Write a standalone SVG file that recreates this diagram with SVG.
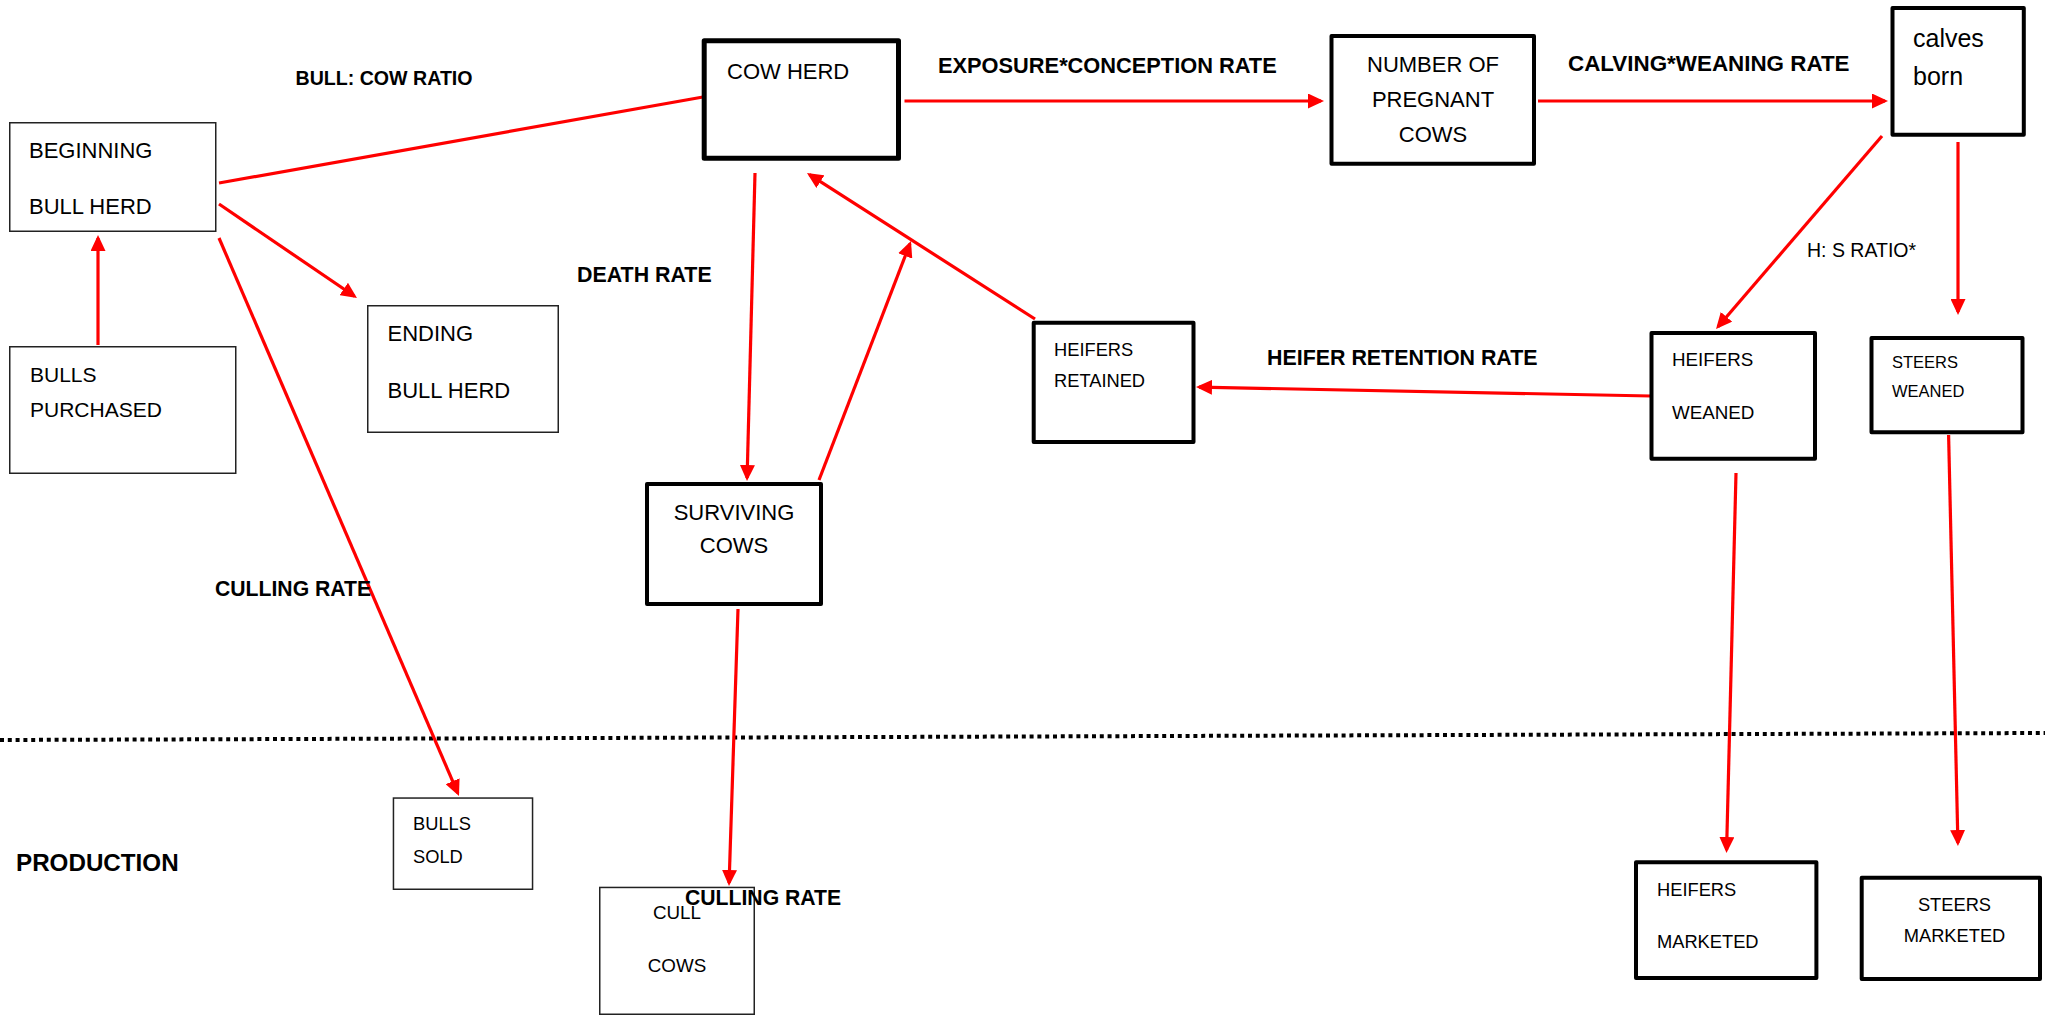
<svg xmlns="http://www.w3.org/2000/svg" width="2045" height="1016" viewBox="0 0 2045 1016">
<style>
  .thin{fill:#fff;stroke:#222;stroke-width:1.5}
  .med{fill:#fff;stroke:#000;stroke-width:4;stroke-linejoin:round}
  .thick{fill:#fff;stroke:#000;stroke-width:5;stroke-linejoin:round}
  text{font-family:"Liberation Sans",Arial,sans-serif;fill:#000}
  .t22{font-size:22px}
  .t21{font-size:21px}
  .t19{font-size:18.8px}
  .t18{font-size:18.3px}
  .t16{font-size:16.5px}
  .lab{font-weight:bold;font-size:21.4px}
  .conn line{stroke:#ff0000;stroke-width:3.2;fill:none}
  .arr{marker-end:url(#ah)}
</style>
<defs>
  <marker id="ah" markerUnits="userSpaceOnUse" markerWidth="16" markerHeight="15" refX="13" refY="7.5" orient="auto">
    <path d="M0,0 L16,7.5 L0,15 z" fill="#ff0000"/>
  </marker>
</defs>
<rect width="2045" height="1016" fill="#fff"/>

<!-- dotted separator -->
<line id="separator" x1="0" y1="740" x2="2045" y2="733" stroke="#000" stroke-width="4" stroke-dasharray="4 3.8"/>

<g class="conn">
  <line class="arr" x1="98" y1="345" x2="98" y2="238"/>
  <line x1="219" y1="183" x2="703" y2="97"/>
  <line class="arr" x1="219" y1="204" x2="354.5" y2="296.3"/>
  <line class="arr" x1="219" y1="238" x2="457.8" y2="793.2"/>
  <line class="arr" x1="904.5" y1="101" x2="1321" y2="101"/>
  <line class="arr" x1="1538" y1="101" x2="1885" y2="101"/>
  <line class="arr" x1="755" y1="173" x2="747.1" y2="478"/>
  <line class="arr" x1="819" y1="480" x2="909.9" y2="243.8"/>
  <line class="arr" x1="1035" y1="319" x2="809.5" y2="174.6"/>
  <line class="arr" x1="1651" y1="396" x2="1199" y2="387.1"/>
  <line class="arr" x1="1882" y1="136" x2="1718" y2="326.7"/>
  <line class="arr" x1="1958" y1="142" x2="1958" y2="312"/>
  <line class="arr" x1="738" y1="609" x2="729.1" y2="883"/>
  <line class="arr" x1="1736" y1="473" x2="1726.6" y2="850"/>
  <line class="arr" x1="1948.6" y1="435" x2="1957.9" y2="843"/>
</g>

<g id="beginning-bull-herd">
  <rect class="thin" x="9.75" y="122.75" width="206" height="108.5"/>
  <text class="t22" x="29" y="158">BEGINNING</text>
  <text class="t22" x="29" y="214">BULL HERD</text>
</g>
<g id="bulls-purchased">
  <rect class="thin" x="9.75" y="346.75" width="226" height="126.5"/>
  <text class="t21" x="30" y="382">BULLS</text>
  <text class="t21" x="30" y="417">PURCHASED</text>
</g>
<g id="ending-bull-herd">
  <rect class="thin" x="367.75" y="305.75" width="190.5" height="126.5"/>
  <text class="t22" x="387.5" y="341">ENDING</text>
  <text class="t22" x="387.5" y="398">BULL HERD</text>
</g>
<g id="cow-herd">
  <rect class="thick" x="704.2" y="40.8" width="194.3" height="117.4"/>
  <text class="t22" x="727" y="79">COW HERD</text>
</g>
<g id="pregnant-cows">
  <rect class="med" x="1331.5" y="36" width="202.5" height="127.7"/>
  <text class="t22" x="1433" y="71.7" text-anchor="middle">NUMBER OF</text>
  <text class="t22" x="1433" y="106.7" text-anchor="middle">PREGNANT</text>
  <text class="t22" x="1433" y="141.7" text-anchor="middle">COWS</text>
</g>
<g id="calves-born">
  <rect class="med" x="1892.5" y="8" width="131.3" height="126.7"/>
  <text x="1913" y="46.7" style="font-size:25px">calves</text>
  <text x="1913" y="85" style="font-size:25px">born</text>
</g>
<g id="surviving-cows">
  <rect class="med" x="647" y="484" width="174" height="120"/>
  <text class="t22" x="734" y="520" text-anchor="middle">SURVIVING</text>
  <text class="t22" x="734" y="553.3" text-anchor="middle">COWS</text>
</g>
<g id="heifers-retained">
  <rect class="med" x="1033.7" y="322.7" width="159.8" height="119.3"/>
  <text class="t18" x="1054" y="356">HEIFERS</text>
  <text class="t18" x="1054" y="387">RETAINED</text>
</g>
<g id="heifers-weaned">
  <rect class="med" x="1651.5" y="333" width="163.5" height="125.7"/>
  <text class="t19" x="1672" y="366">HEIFERS</text>
  <text class="t19" x="1672" y="419">WEANED</text>
</g>
<g id="steers-weaned">
  <rect class="med" x="1871.5" y="338" width="151" height="94.3"/>
  <text class="t16" x="1892" y="367.7">STEERS</text>
  <text class="t16" x="1892" y="397.3">WEANED</text>
</g>
<g id="bulls-sold">
  <rect class="thin" x="393.45" y="798.05" width="139.1" height="91.2"/>
  <text class="t18" x="413" y="830">BULLS</text>
  <text class="t18" x="413" y="862.7">SOLD</text>
</g>
<g id="cull-cows">
  <rect class="thin" x="599.75" y="887.45" width="154.5" height="126.8"/>
  <text class="t19" x="677" y="919.3" text-anchor="middle">CULL</text>
  <text class="t19" x="677" y="972.3" text-anchor="middle">COWS</text>
</g>
<g id="heifers-marketed">
  <rect class="med" x="1636" y="862.3" width="180.4" height="115.7"/>
  <text class="t18" x="1657" y="895.7">HEIFERS</text>
  <text class="t18" x="1657" y="947.7">MARKETED</text>
</g>
<g id="steers-marketed">
  <rect class="med" x="1861.7" y="877.7" width="178.3" height="101.3"/>
  <text class="t18" x="1954.5" y="910.7" text-anchor="middle">STEERS</text>
  <text class="t18" x="1954.5" y="941.7" text-anchor="middle">MARKETED</text>
</g>

<g id="labels">
  <text class="lab" x="295.5" y="85" style="font-size:19.6px">BULL: COW RATIO</text>
  <text class="lab" x="938" y="72.7" style="font-size:21.8px">EXPOSURE*CONCEPTION RATE</text>
  <text class="lab" x="1568" y="70.7" style="font-size:22.4px">CALVING*WEANING RATE</text>
  <text class="lab" x="577" y="282">DEATH RATE</text>
  <text class="lab" x="1267" y="365">HEIFER RETENTION RATE</text>
  <text x="1807" y="256.7" style="font-size:19.5px">H: S RATIO*</text>
  <text class="lab" x="215" y="596" style="font-size:21.2px">CULLING RATE</text>
  <text class="lab" x="685" y="905" style="font-size:21.2px">CULLING RATE</text>
  <text class="lab" x="16" y="871" style="font-size:24.2px">PRODUCTION</text>
</g>
</svg>
